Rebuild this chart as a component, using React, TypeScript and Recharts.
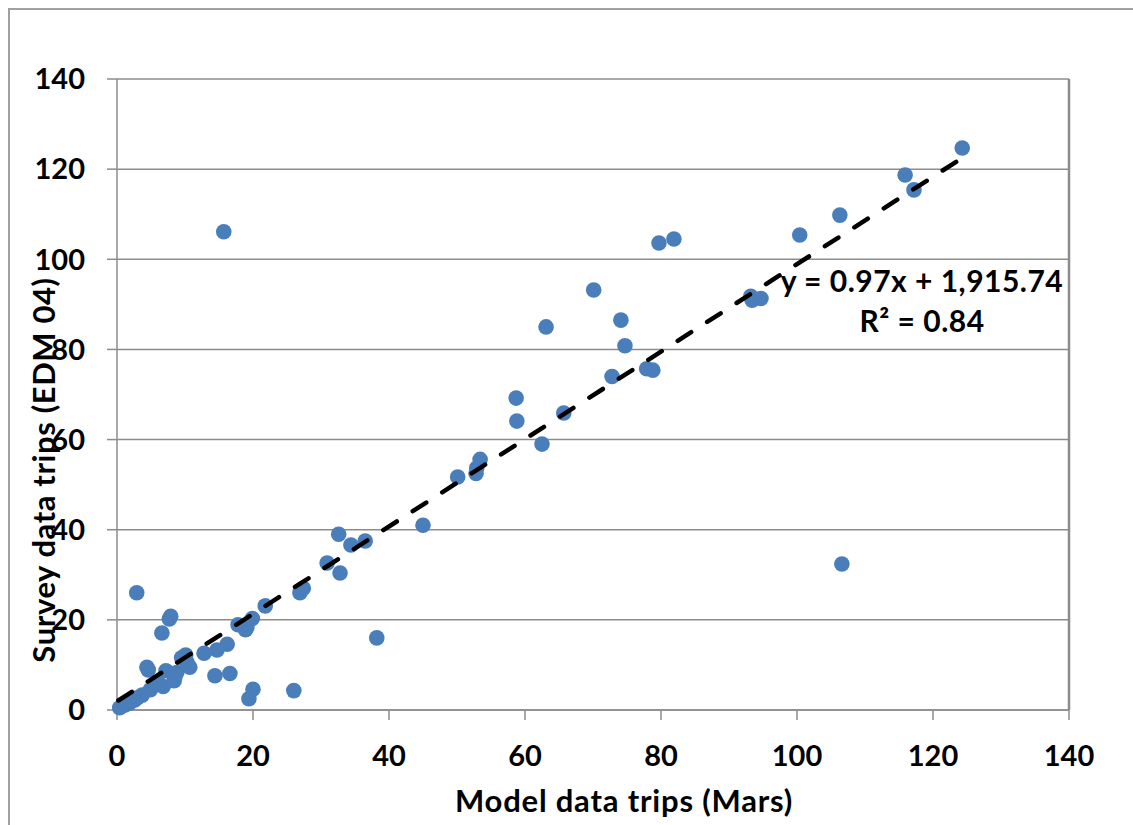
import React from 'react';
import { ScatterChart, Scatter, XAxis, YAxis, CartesianGrid, ReferenceLine } from 'recharts';

const modelTrips = [
  124.3, 115.9, 117.2, 106.3, 100.4, 79.7, 81.9, 15.7, 70.1, 74.1, 63.1, 74.7, 93.2, 93.4, 94.7,
  72.8, 77.9, 78.8, 58.7, 58.8, 65.7, 62.5, 53.4, 52.9, 52.8, 50.1, 106.6, 45.0, 32.6, 34.4,
  36.5, 30.9, 32.8, 26.9, 27.4, 38.2, 21.8, 2.9, 7.9, 7.7, 6.6, 17.8, 19.1, 18.9, 19.9,
  16.2, 14.7, 12.8, 10.1, 10.7, 10.3, 14.4, 16.6, 20.0, 19.4, 26.0, 4.4, 4.6, 7.2, 8.8,
  8.5, 6.8, 8.4, 6.0, 4.9, 3.7, 2.6, 1.2, 0.4, 5.6, 3.0, 1.8, 9.5,
];
const surveyTrips = [
  124.7, 118.7, 115.4, 109.8, 105.4, 103.6, 104.5, 106.1, 93.2, 86.5, 85.0, 80.8, 91.8, 90.9, 91.3,
  74.0, 75.7, 75.4, 69.2, 64.1, 65.9, 59.0, 55.6, 53.7, 52.5, 51.7, 32.4, 41.0, 39.0, 36.6,
  37.5, 32.6, 30.4, 26.0, 27.0, 16.0, 23.1, 26.0, 20.8, 20.2, 17.1, 18.9, 18.3, 17.8, 20.3,
  14.6, 13.3, 12.6, 12.2, 9.5, 10.6, 7.6, 8.1, 4.6, 2.5, 4.3, 9.5, 8.9, 8.7, 8.3,
  7.2, 5.2, 6.5, 6.2, 4.5, 3.3, 2.2, 1.1, 0.5, 5.6, 2.7, 1.5, 11.6,
];

const axisTicks = [0, 20, 40, 60, 80, 100, 120, 140];
const trendSlope = 0.97;
const trendIntercept = 1.916;
const trendXRange = [0.2, 124.3];

const points = modelTrips.map((x, i) => ({ x, y: surveyTrips[i] }));
const trendPoints = trendXRange.map((x) => ({ x, y: trendSlope * x + trendIntercept }));

const FONT = 'Lato, "DejaVu Sans", sans-serif';
const GRAY = '#8c8c8c';
const BLUE = '#4a7ebb';

const tickStyle = { fontFamily: FONT, fontWeight: 700, fontSize: 29, fill: '#000' };

const Dot = (p: any) => <circle cx={p.cx} cy={p.cy} r={7.8} fill={BLUE} />;
const NoDot = () => <g />;

const labelBase: React.CSSProperties = {
  position: 'absolute',
  textAlign: 'center',
  fontFamily: FONT,
  fontWeight: 700,
  lineHeight: '40px',
  color: '#000',
  whiteSpace: 'nowrap',
};

export default function App() {
  return (
    <div
      style={{
        position: 'fixed',
        left: 8,
        top: 8,
        width: 1125,
        height: 817,
        boxSizing: 'border-box',
        borderLeft: '2px solid #a0a0a0',
        borderTop: '2px solid #a0a0a0',
        background: '#fff',
        overflow: 'hidden',
      }}
    >
      <ScatterChart width={1123} height={815} margin={{ top: 69, right: 64, bottom: 75, left: 27 }}>
        <CartesianGrid horizontal vertical={false} stroke={GRAY} strokeWidth={1.5} />
        <XAxis
          type="number"
          dataKey="x"
          domain={[0, 140]}
          ticks={axisTicks}
          interval={0}
          height={40}
          tickSize={10}
          tickMargin={25}
          axisLine={{ stroke: GRAY, strokeWidth: 1.5 }}
          tickLine={{ stroke: GRAY, strokeWidth: 1.5 }}
          tick={tickStyle}
        />
        <YAxis
          type="number"
          dataKey="y"
          domain={[0, 140]}
          ticks={axisTicks}
          interval={0}
          width={80}
          tickSize={10}
          tickMargin={22}
          axisLine={{ stroke: GRAY, strokeWidth: 1.5 }}
          tickLine={{ stroke: GRAY, strokeWidth: 1.5 }}
          tick={tickStyle}
        />
        <ReferenceLine x={140} stroke={GRAY} strokeWidth={2.5} />
        <Scatter data={points} shape={Dot} isAnimationActive={false} />
        <Scatter
          data={trendPoints}
          shape={NoDot}
          line={{ stroke: '#000', strokeWidth: 4.5, strokeDasharray: '16 19', strokeLinecap: 'round' }}
          isAnimationActive={false}
        />
      </ScatterChart>
      <div style={{ ...labelBase, left: 712, top: 250, width: 400, fontSize: 30, letterSpacing: '0.5px' }}>
        <div>y = 0.97x + 1,915.74</div>
        <div>R² = 0.84</div>
      </div>
      <div style={{ ...labelBase, left: 314, top: 770, width: 600, fontSize: 31, letterSpacing: '0.8px' }}>
        Model data trips (Mars)
      </div>
      <div
        style={{
          ...labelBase,
          left: -217.5,
          top: 440,
          width: 500,
          height: 40,
          fontSize: 31,
          letterSpacing: '0.6px',
          transform: 'rotate(-90deg)',
        }}
      >
        Survey data trips (EDM 04)
      </div>
    </div>
  );
}
